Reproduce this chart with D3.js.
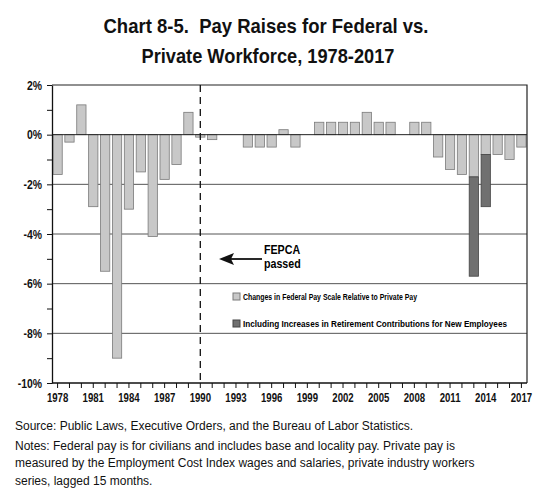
<!DOCTYPE html>
<html>
<head>
<meta charset="utf-8">
<script src="https://cdn.jsdelivr.net/npm/d3@7"></script>
<style>
  body { margin: 0; background: #fff; }
  svg { display: block; }
  .cond { font-family: "Liberation Sans", Arial, sans-serif; font-weight: bold; }
  .title { white-space: pre; }
  .note { font-family: "Liberation Sans", Arial, sans-serif; font-size: 12px; fill: #111; }
</style>
</head>
<body>
<svg width="550" height="495"></svg>
<script>
// Data (percent)
var years = d3.range(1978, 2018);
var payGap = [-1.6, -0.3, 1.2, -2.9, -5.5, -9.0, -3.0, -1.5, -4.1, -1.8,
              -1.2, 0.9, -0.1, -0.2, 0, 0, -0.5, -0.5, -0.5, 0.2,
              -0.5, 0, 0.5, 0.5, 0.5, 0.5, 0.9, 0.5, 0.5, 0,
              0.5, 0.5, -0.9, -1.4, -1.6, -1.7, -0.8, -0.8, -1.0, -0.5];
var retireYears = [2013, 2014];
var retireTotal = [-5.7, -2.9];
var yTicks = d3.range(-10, 3);
var gridVals = [-8, -6, -4, -2];
var xLabelYears = d3.range(1978, 2018, 3);

var svg = d3.select("svg");
var pLeft = 52, pRight = 527, pTop = 85, pBottom = 383;

var x = d3.scaleBand().domain(years).range([pLeft, pRight]).paddingInner(0.22).paddingOuter(0.08);
var y = d3.scaleLinear().domain([-10, 2]).range([pBottom, pTop]);

// squeeze bold sans text so it reads like the condensed face of the original
function condense(sel, k) {
  sel.each(function() {
    var w = this.getComputedTextLength();
    if (w > 0) d3.select(this).attr("textLength", w * k).attr("lengthAdjust", "spacingAndGlyphs");
  });
}

// gridlines
svg.append("g").selectAll("line").data(gridVals).join("line")
  .attr("x1", pLeft).attr("x2", pRight)
  .attr("y1", d => y(d)).attr("y2", d => y(d))
  .attr("stroke", "#555").attr("stroke-width", 1);

// bars
svg.append("g").selectAll("rect").data(years).join("rect")
  .attr("x", d => x(d))
  .attr("width", x.bandwidth())
  .attr("y", (d, i) => y(Math.max(0, payGap[i])))
  .attr("height", (d, i) => Math.abs(y(payGap[i]) - y(0)))
  .attr("fill", "#c8c8c8").attr("stroke", "#7a7a7a").attr("stroke-width", 0.8);

svg.append("g").selectAll("rect").data(retireYears).join("rect")
  .attr("x", d => x(d))
  .attr("width", x.bandwidth())
  .attr("y", d => y(payGap[years.indexOf(d)]))
  .attr("height", (d, i) => y(retireTotal[i]) - y(payGap[years.indexOf(d)]))
  .attr("fill", "#707070").attr("stroke", "#444").attr("stroke-width", 0.8);

// zero line
svg.append("line").attr("x1", pLeft).attr("x2", pRight)
  .attr("y1", y(0)).attr("y2", y(0)).attr("stroke", "#222").attr("stroke-width", 1);

// frame (top and right)
svg.append("path")
  .attr("d", "M" + pLeft + "," + pTop + "H" + pRight + "V" + pBottom)
  .attr("fill", "none").attr("stroke", "#222").attr("stroke-width", 1.2);

// FEPCA dashed line
svg.append("line")
  .attr("x1", x(1990) + x.bandwidth() / 2).attr("x2", x(1990) + x.bandwidth() / 2)
  .attr("y1", pTop).attr("y2", pBottom)
  .attr("stroke", "#111").attr("stroke-width", 1.3).attr("stroke-dasharray", "7,5");

// axes
var xAxis = d3.axisBottom(x).tickSize(5).tickSizeOuter(0)
  .tickFormat(d => xLabelYears.indexOf(d) >= 0 ? d : "");
var gx = svg.append("g").attr("transform", "translate(0," + pBottom + ")").call(xAxis);
gx.select(".domain").attr("d", "M" + pLeft + ",0H" + pRight).attr("stroke", "#111").attr("stroke-width", 1.3);
gx.selectAll(".tick line").attr("stroke", "#111").attr("stroke-width", 1);
gx.selectAll("text").attr("class", "cond").attr("font-size", 12).attr("fill", "#111").attr("dy", "0.95em");
condense(gx.selectAll("text"), 0.8);

var yAxis = d3.axisLeft(y).tickValues(yTicks).tickSize(5).tickSizeOuter(0)
  .tickFormat(d => d % 2 === 0 ? d + "%" : "");
var gy = svg.append("g").attr("transform", "translate(" + pLeft + ",0)").call(yAxis);
gy.select(".domain").attr("stroke", "#111").attr("stroke-width", 1.3);
gy.selectAll(".tick line").attr("stroke", "#111");
gy.selectAll("text").attr("class", "cond").attr("font-size", 13).attr("fill", "#111").attr("x", -10);
condense(gy.selectAll("text"), 0.8);

// FEPCA annotation
svg.append("line").attr("x1", 262).attr("x2", 230).attr("y1", 259).attr("y2", 259)
  .attr("stroke", "#111").attr("stroke-width", 1.8);
svg.append("path").attr("d", "M219,259L234,253L231,259L234,265Z").attr("fill", "#111");
var fep = svg.append("g");
fep.append("text").attr("class", "cond").attr("x", 264).attr("y", 254).attr("font-size", 13).text("FEPCA");
fep.append("text").attr("class", "cond").attr("x", 264).attr("y", 268).attr("font-size", 13).text("passed");
condense(fep.selectAll("text"), 0.82);

// legend
var legend = [
  { label: "Changes in Federal Pay Scale Relative to Private Pay", fill: "#c8c8c8", stroke: "#7a7a7a", w: 174 },
  { label: "Including Increases in Retirement Contributions for New Employees", fill: "#707070", stroke: "#444", w: 264 }
];
var lg = svg.append("g").selectAll("g").data(legend).join("g")
  .attr("transform", (d, i) => "translate(233," + (293 + i * 27) + ")");
lg.append("rect").attr("width", 7).attr("height", 7).attr("fill", d => d.fill).attr("stroke", d => d.stroke);
lg.append("text").attr("class", "cond").attr("x", 10).attr("y", 7).attr("font-size", 9.5)
  .attr("textLength", d => d.w).attr("lengthAdjust", "spacingAndGlyphs").text(d => d.label);

// title
var title = svg.append("text").attr("class", "cond title").attr("text-anchor", "middle")
  .attr("font-size", 21).attr("fill", "#111");
title.append("tspan").attr("x", 266).attr("y", 33)
  .attr("textLength", 325).attr("lengthAdjust", "spacingAndGlyphs")
  .text("Chart 8-5.  Pay Raises for Federal vs.");
title.append("tspan").attr("x", 268).attr("y", 63)
  .attr("textLength", 253).attr("lengthAdjust", "spacingAndGlyphs")
  .text("Private Workforce, 1978-2017");

// source and notes
var notes = [
  "Source: Public Laws, Executive Orders, and the Bureau of Labor Statistics.",
  "Notes: Federal pay is for civilians and includes base and locality pay. Private pay is",
  "measured by the Employment Cost Index wages and salaries, private industry workers",
  "series, lagged 15 months."
];
svg.append("g").selectAll("text").data(notes).join("text")
  .attr("class", "note").attr("x", 15)
  .attr("y", (d, i) => i === 0 ? 430 : 432 + i * 17.5)
  .text(d => d);
</script>
</body>
</html>
